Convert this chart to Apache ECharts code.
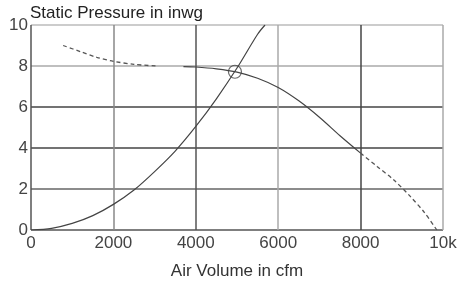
<!DOCTYPE html>
<html>
<head>
<meta charset="utf-8">
<script src="https://cdn.jsdelivr.net/npm/echarts@6/dist/echarts.min.js"></script>
<style>
  html, body { margin: 0; padding: 0; background: #fff; }
  #main { width: 460px; height: 285px; }
</style>
</head>
<body>
<div id="main"></div>
<script>
// system curve (parabola through the operating point)
var sysX = [0, 500, 1000, 1500, 2000, 2500, 3000, 3500, 4000, 4500, 5000, 5500, 5680];
var sysY = [0, 0.08, 0.32, 0.7, 1.25, 1.95, 2.85, 3.85, 5.05, 6.4, 7.9, 9.55, 10];

// fan curve, solid part
var fanX = [3700, 4000, 4500, 5000, 5500, 6000, 6500, 7000, 7500, 8000];
var fanY = [7.97, 7.95, 7.86, 7.7, 7.4, 6.95, 6.3, 5.5, 4.6, 3.75];

// fan curve, dashed parts
var fanLeftX = [780, 1200, 1600, 2000, 2500, 3050];
var fanLeftY = [9.0, 8.7, 8.42, 8.23, 8.08, 8.0];
var fanRightX = [8000, 8400, 8800, 9200, 9550, 9850];
var fanRightY = [3.75, 3.1, 2.45, 1.65, 0.85, 0];

// operating point
var opPoint = [4950, 7.72];

var xTicks = [0, 2000, 4000, 6000, 8000, 10000];
var yTicks = [0, 2, 4, 6, 8, 10];

function pairs(xs, ys) {
  var out = [];
  for (var i = 0; i < xs.length; i++) out.push([xs[i], ys[i]]);
  return out;
}

var font = 'Liberation Sans, Arial, sans-serif';
var lineCol = '#444';

var myChart = echarts.init(document.getElementById('main'));
var option = {
  animation: false,
  title: {
    text: 'Static Pressure in inwg',
    left: 30, top: 5, padding: 0,
    textStyle: { fontFamily: font, fontSize: 17, fontWeight: 'normal', color: '#222' }
  },
  grid: { left: 31, right: 17, top: 25, bottom: 55 },
  xAxis: {
    type: 'value',
    min: xTicks[0], max: xTicks[xTicks.length - 1], interval: 2000,
    name: 'Air Volume in cfm',
    nameLocation: 'middle',
    nameGap: 33,
    nameTextStyle: { fontFamily: font, fontSize: 17, color: '#333' },
    axisLine: { show: false },
    axisTick: { show: false },
    axisLabel: {
      fontFamily: font, fontSize: 17, color: '#444', margin: 5,
      formatter: function (v) { return v === 10000 ? '10k' : String(v); }
    },
    splitLine: {
      show: true,
      lineStyle: { color: ['#555', '#888', '#555', '#aaa', '#444', '#aaa'], width: 1.5 }
    }
  },
  yAxis: {
    type: 'value',
    min: yTicks[0], max: yTicks[yTicks.length - 1], interval: 2,
    axisLine: { show: false },
    axisTick: { show: false },
    axisLabel: {
      fontFamily: font, fontSize: 17, color: '#444', margin: 3,
      verticalAlign: 'middle', padding: [0, 0, 8, 0]
    },
    splitLine: {
      show: true,
      lineStyle: { color: ['#555', '#666', '#444', '#444', '#aaa', '#bbb'], width: 1.5 }
    }
  },
  series: [
    {
      name: 'system', type: 'line', smooth: 0.3, symbol: 'none',
      data: pairs(sysX, sysY),
      lineStyle: { color: lineCol, width: 1.2 }
    },
    {
      name: 'fan', type: 'line', smooth: 0.3, symbol: 'none',
      data: pairs(fanX, fanY),
      lineStyle: { color: lineCol, width: 1.2 }
    },
    {
      name: 'fan low', type: 'line', smooth: 0.3, symbol: 'none',
      data: pairs(fanLeftX, fanLeftY),
      lineStyle: { color: '#555', width: 1.3, type: [4, 3] }
    },
    {
      name: 'fan high', type: 'line', smooth: 0.3, symbol: 'none',
      data: pairs(fanRightX, fanRightY),
      lineStyle: { color: '#555', width: 1.3, type: [4, 3] }
    },
    {
      name: 'operating point', type: 'scatter',
      data: [opPoint],
      symbol: 'circle', symbolSize: 13,
      itemStyle: { color: 'rgba(0,0,0,0)', borderColor: lineCol, borderWidth: 1.2 }
    }
  ]
};
myChart.setOption(option);
</script>
</body>
</html>
